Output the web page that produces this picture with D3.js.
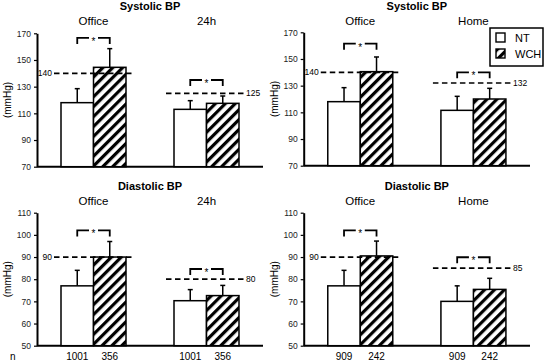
<!DOCTYPE html>
<html>
<head>
<meta charset="utf-8">
<script src="https://cdn.jsdelivr.net/npm/d3@7"></script>
<style>
  body { margin: 0; background: #fff; }
  svg { font-family: 'Liberation Sans', Arial, sans-serif; }
</style>
</head>
<body>
<div class="result"></div>
<script>
// data
const groupsLeft = ['Office', '24h']
const groupsRight = ['Office', 'Home']
const sbpNT = [118, 113, 118, 111.5]
const sbpNTsd = [10.5, 6.5, 10.5, 10.5]
const sbpWCH = [144.5, 117.5, 140.5, 120]
const sbpWCHsd = [14, 5.5, 11, 8]
const sbpLimit = [140, 125, 140, 132]
const sbpBracket = [166.5, 135, 161.5, 140]
const dbpNT = [77, 70.3, 77, 70]
const dbpNTsd = [7, 5, 7, 7]
const dbpWCH = [90, 72.6, 90.5, 75.4]
const dbpWCHsd = [7, 4.6, 6.7, 5]
const dbpLimit = [90, 80, 90, 85]
const dbpBracket = [102, 84.6, 102, 89.9]
const nNT = [1001, 1001, 909, 909]
const nWCH = [356, 356, 242, 242]
const sbpTicks = [70, 90, 110, 130, 150, 170]
const dbpTicks = [50, 60, 70, 80, 90, 100, 110]

const svg = d3
  .select('.result')
  .append('svg')
  .attr('width', 553)
  .attr('height', 363)

const defs = svg.append('defs')
defs
  .append('pattern')
  .attr('id', 'hatch')
  .attr('patternUnits', 'userSpaceOnUse')
  .attr('width', 7)
  .attr('height', 7)
  .attr('patternTransform', 'rotate(45)')
  .call((p) => {
    p.append('rect').attr('width', 7).attr('height', 7).attr('fill', '#fff')
    p.append('rect').attr('width', 3.2).attr('height', 7).attr('fill', '#000')
  })

// one panel = two groups of NT / WCH bars
function panel(opt) {
  const g = svg.append('g')
  const x = d3.scaleBand().domain(opt.groups).range([opt.x0, opt.x1])
  const y = d3.scaleLinear().domain(d3.extent(opt.ticks)).range([opt.y1, opt.y0])
  const bw = 32.5
  const nn = opt.nn || []
  const nw = opt.nw || []

  // y axis
  g.append('g')
    .attr('transform', 'translate(' + opt.x0 + ',0)')
    .call(d3.axisLeft(y).tickValues(opt.ticks).tickSize(3).tickSizeOuter(0).tickPadding(3))
    .call((a) => {
      a.select('.domain').attr('stroke-width', 2)
      a.selectAll('.tick line').attr('stroke-width', 1.2)
      a.selectAll('text').attr('font-size', 8.5).attr('fill', '#222').attr('font-family', null)
    })
  // baseline
  g.append('line')
    .attr('x1', opt.x0).attr('x2', opt.x1)
    .attr('y1', y(opt.ticks[0])).attr('y2', y(opt.ticks[0]))
    .attr('stroke', '#000').attr('stroke-width', 2)

  g.append('text')
    .attr('transform', 'translate(' + opt.ylab + ',' + (opt.y0 + opt.y1) / 2 + ') rotate(-90)')
    .attr('text-anchor', 'middle')
    .attr('font-size', 10)
    .text('(mmHg)')

  g.append('text')
    .attr('x', (opt.x0 + opt.x1) / 2).attr('y', opt.titleY)
    .attr('text-anchor', 'middle').attr('font-size', 11).attr('font-weight', 'bold')
    .text(opt.title)

  opt.groups.forEach((grp, j) => {
    const i = opt.idx[j]
    const c = x(grp) + x.bandwidth() / 2
    g.append('text')
      .attr('x', c).attr('y', opt.titleY + 15)
      .attr('text-anchor', 'middle').attr('font-size', 11.5)
      .text(grp)

    const bars = [
      { v: opt.nt[i], sd: opt.ntsd[i], x: c - bw, fill: '#fff', n: nn[i] },
      { v: opt.wch[i], sd: opt.wchsd[i], x: c, fill: 'url(#hatch)', n: nw[i] }
    ]
    bars.forEach((b) => {
      const cx = b.x + bw / 2
      g.append('line')
        .attr('x1', cx).attr('x2', cx)
        .attr('y1', y(b.v)).attr('y2', y(b.v + b.sd))
        .attr('stroke', '#000').attr('stroke-width', 1.5)
      g.append('line')
        .attr('x1', cx - 2.5).attr('x2', cx + 2.5)
        .attr('y1', y(b.v + b.sd)).attr('y2', y(b.v + b.sd))
        .attr('stroke', '#000').attr('stroke-width', 1.5)
      g.append('rect')
        .attr('x', b.x).attr('y', y(b.v))
        .attr('width', bw).attr('height', y(opt.ticks[0]) - y(b.v))
        .attr('fill', b.fill).attr('stroke', '#000').attr('stroke-width', 1.5)
      if (opt.showN) {
        g.append('text')
          .attr('x', cx).attr('y', 360)
          .attr('text-anchor', 'middle').attr('font-size', 10)
          .text(b.n)
      }
    })

    // threshold
    const lx0 = c - bw - (j === 0 ? 7 : 8)
    const lx1 = c + bw + (j === 0 ? 7 : 5)
    const ly = y(opt.limit[i])
    g.append('line')
      .attr('x1', lx0).attr('x2', lx1).attr('y1', ly).attr('y2', ly)
      .attr('stroke', '#000').attr('stroke-width', 1.7)
      .attr('stroke-dasharray', '5.5,3.5')
    g.append('text')
      .attr('x', j === 0 ? lx0 - 2 : lx1 + 2).attr('y', ly + 3)
      .attr('text-anchor', j === 0 ? 'end' : 'start').attr('font-size', 8.5)
      .text(opt.limit[i])

    // significance bracket
    const by = y(opt.bracket[i])
    const bl = c - bw / 2
    const br = c + bw / 2
    g.append('path')
      .attr('d', 'M' + bl + ',' + (by + 6) + 'V' + by + 'H' + (c - 4.5) +
        'M' + (c + 4.5) + ',' + by + 'H' + br + 'V' + (by + 6))
      .attr('fill', 'none').attr('stroke', '#000').attr('stroke-width', 1.8)
    g.append('text')
      .attr('x', c).attr('y', by + 7)
      .attr('text-anchor', 'middle').attr('font-size', 10)
      .text('*')
  })
}

panel({ groups: groupsLeft, idx: [0, 1], x0: 37, x1: 263, y0: 33.3, y1: 166.7, ticks: sbpTicks,
  nt: sbpNT, ntsd: sbpNTsd, wch: sbpWCH, wchsd: sbpWCHsd, limit: sbpLimit, bracket: sbpBracket,
  title: 'Systolic BP', titleY: 10, ylab: 11 })
panel({ groups: groupsRight, idx: [2, 3], x0: 303.7, x1: 530, y0: 32.3, y1: 165.7, ticks: sbpTicks,
  nt: sbpNT, ntsd: sbpNTsd, wch: sbpWCH, wchsd: sbpWCHsd, limit: sbpLimit, bracket: sbpBracket,
  title: 'Systolic BP', titleY: 10, ylab: 278 })
panel({ groups: groupsLeft, idx: [0, 1], x0: 37, x1: 263, y0: 212.7, y1: 345.7, ticks: dbpTicks,
  nt: dbpNT, ntsd: dbpNTsd, wch: dbpWCH, wchsd: dbpWCHsd, limit: dbpLimit, bracket: dbpBracket,
  title: 'Diastolic BP', titleY: 190, ylab: 11, showN: true, nn: nNT, nw: nWCH })
panel({ groups: groupsRight, idx: [2, 3], x0: 303.7, x1: 530, y0: 212.7, y1: 345.7, ticks: dbpTicks,
  nt: dbpNT, ntsd: dbpNTsd, wch: dbpWCH, wchsd: dbpWCHsd, limit: dbpLimit, bracket: dbpBracket,
  title: 'Diastolic BP', titleY: 190, ylab: 278, showN: true, nn: nNT, nw: nWCH })

svg.append('text').attr('x', 10).attr('y', 360).attr('font-size', 10).text('n')

// legend
const legend = svg.append('g')
legend.append('rect')
  .attr('x', 490).attr('y', 28).attr('width', 53).attr('height', 38)
  .attr('fill', '#fff').attr('stroke', '#000').attr('stroke-width', 1.5)
const legendItems = ['NT', 'WCH']
legendItems.forEach((d, i) => {
  legend.append('rect')
    .attr('x', 496).attr('y', 33 + i * 16).attr('width', 9).attr('height', 9)
    .attr('fill', i === 0 ? '#fff' : 'url(#hatch)').attr('stroke', '#000').attr('stroke-width', 1.4)
  legend.append('text')
    .attr('x', 515).attr('y', 42 + i * 16).attr('font-size', 11)
    .text(d)
})
</script>
</body>
</html>
